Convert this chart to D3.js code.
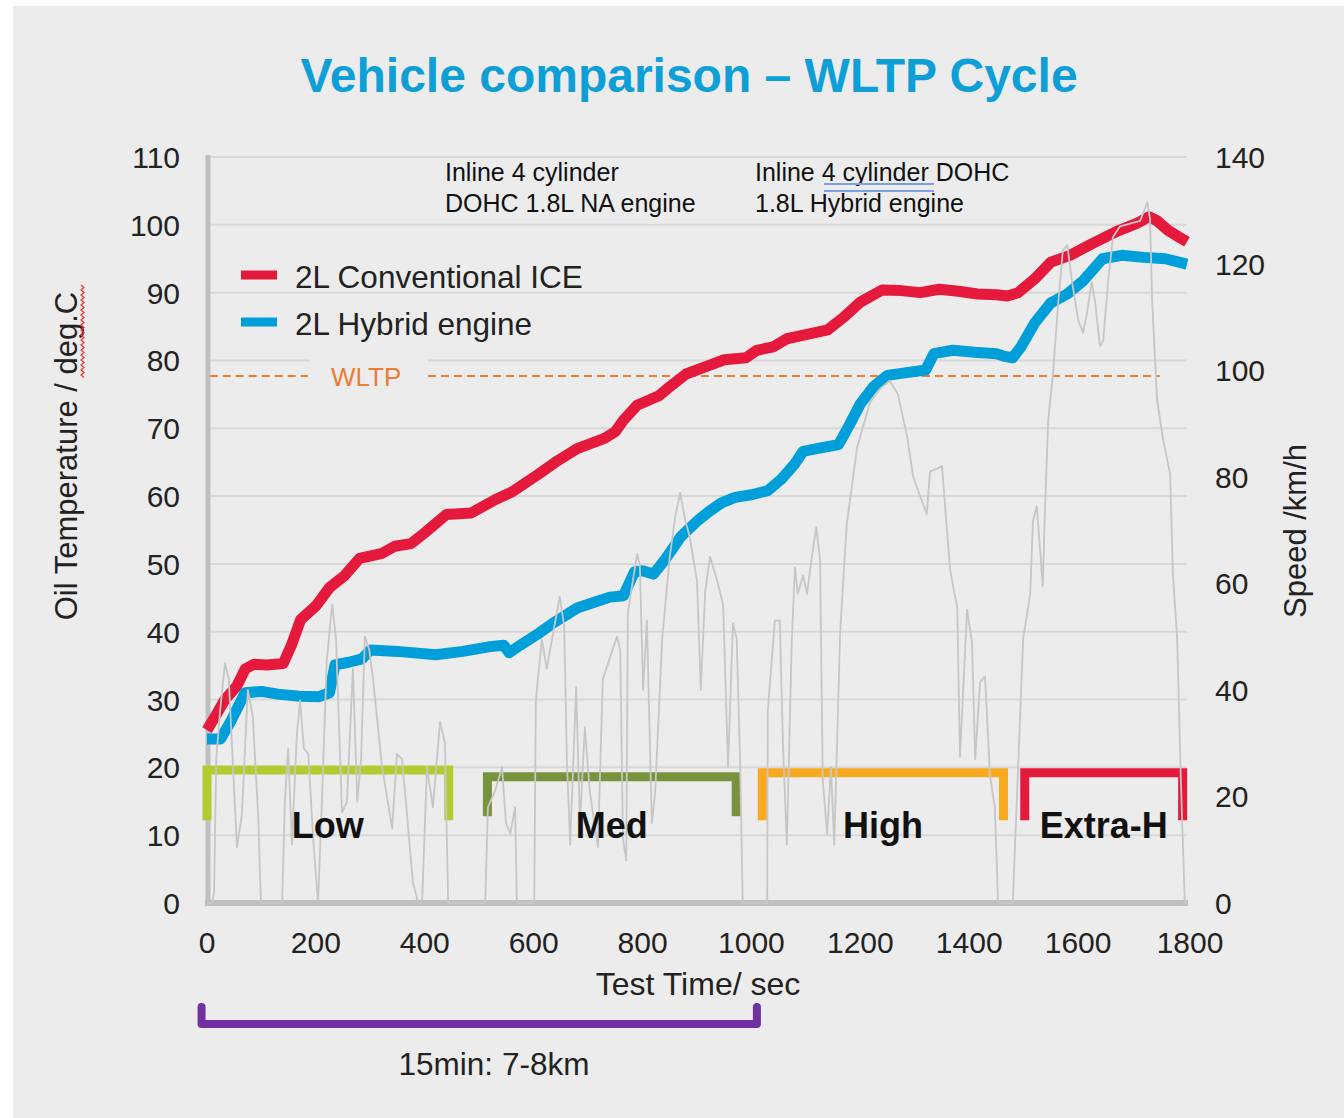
<!DOCTYPE html>
<html><head><meta charset="utf-8">
<script src="https://cdn.jsdelivr.net/npm/d3@7"></script>
<style>html,body{margin:0;padding:0;background:#fff;} svg{display:block;font-family:"Liberation Sans",Arial,Helvetica,sans-serif;}</style>
</head><body><svg id="c" width="1344" height="1118"></svg>
<script>
// ---------------- DATA ----------------
const chartTitle = "Vehicle comparison \u2013 WLTP Cycle";
const timeTicks = [0,200,400,600,800,1000,1200,1400,1600,1800];
const tempTicks = [0,10,20,30,40,50,60,70,80,90,100,110];
const speedTicks = [0,20,40,60,80,100,120,140];
const seriesNames = ["2L Conventional ICE","2L Hybrid engine"];
const engineNotes = [["Inline 4 cylinder","DOHC 1.8L NA engine"],["Inline 4 cylinder DOHC","1.8L Hybrid engine"]];
const wltpLevel = 77.7; // deg.C reference line
const wltpLabel = "WLTP";
const phaseNames = ["Low","Med","High","Extra-H"];
const phaseStart = [0,515,1020,1502];
const phaseEnd = [444,972,1463,1792];
const distanceSpan = [-10,1010];
const distanceLabel = "15min: 7-8km";

// Oil temperature, conventional ICE [time s, deg.C]
const iceTemp = [[0,25.5],[15,27.5],[33,30],[55,32],[70,34.5],[86,35.2],[110,35.1],[140,35.3],[155,38],[172,41.8],[200,43.8],[225,46.5],[253,48.3],[280,50.8],[320,51.5],[345,52.6],[375,53],[400,54.6],[440,57.3],[485,57.5],[530,59.5],[560,60.6],[610,63.3],[640,65],[680,67],[730,68.5],[750,69.5],[765,71.2],[790,73.4],[830,74.8],[845,75.8],[880,78],[920,79.2],[950,80.1],[990,80.4],[1010,81.5],[1040,82],[1065,83.2],[1100,83.8],[1140,84.5],[1170,86.4],[1200,88.6],[1240,90.4],[1275,90.3],[1310,90],[1345,90.5],[1380,90.2],[1415,89.8],[1450,89.7],[1470,89.5],[1490,90],[1520,92],[1550,94.5],[1585,95.5],[1625,97.2],[1670,99],[1710,100.3],[1730,101.2],[1745,100.6],[1765,99.2],[1785,98.2],[1800,97.5]];

// Oil temperature, hybrid engine [time s, deg.C]
const hybridTemp = [[0,24.2],[25,24.2],[45,27],[70,31],[100,31.2],[130,30.8],[170,30.5],[205,30.4],[225,31],[235,35.1],[260,35.5],[285,36],[300,37.3],[350,37.1],[420,36.6],[470,37.1],[520,37.8],[545,38],[555,36.9],[575,38],[610,39.8],[640,41.5],[680,43.5],[710,44.3],[740,45.1],[765,45.3],[785,48.8],[800,49],[820,48.5],[840,50.5],[870,54],[900,56.3],[920,57.6],[945,59],[970,59.8],[1000,60.2],[1030,60.8],[1055,62.5],[1080,64.8],[1095,66.6],[1120,67],[1160,67.6],[1180,70.5],[1200,73.6],[1225,76.2],[1250,77.8],[1285,78.2],[1320,78.6],[1335,81],[1370,81.5],[1410,81.2],[1450,81],[1465,80.6],[1480,80.4],[1495,82],[1520,85.5],[1550,88.5],[1580,89.8],[1610,91.8],[1645,95],[1680,95.5],[1720,95.2],[1760,95],[1800,94.2]];

// WLTP vehicle speed trace [time s, km/h]
const speedTrace = [[0,0],[9,0],[13,2],[17,27],[24,36],[33,45],[40,42],[48,25],[55,10.5],[64,16.5],[75,40],[84,35],[94,16.5],[99,0],[138,0],[143,19],[149,29],[156,11],[165,31.5],[171,38],[178,29],[186,28],[195,12],[204,0],[211,19],[220,45.5],[230,56],[237,49.5],[248,17],[257,19],[268,44],[276,19],[283,27],[290,50],[298,47.5],[305,42],[321,26],[340,14],[349,28],[358,27],[364,20.5],[378,4],[388,0],[395,0],[404,25.5],[415,18],[428,34],[437,30],[443,0],[511,0],[516,18],[529,21],[542,25.5],[549,15],[557,13],[566,18],[569,0],[601,0],[604,38],[615,49.5],[624,44],[639,52.5],[648,57.5],[656,52],[661,27],[667,11],[678,40.5],[685,15],[694,33],[703,21],[718,10.5],[727,42],[740,46],[753,50],[759,47.5],[764,12],[770,8],[773,54.5],[790,65.5],[795,63.5],[801,40],[808,53],[817,15],[823,20.5],[836,49.5],[850,65],[860,72.5],[869,77],[878,72],[887,68.5],[900,60.5],[907,40],[915,58.5],[924,65],[937,60.5],[948,56],[957,25.5],[966,52.5],[973,49.5],[979,27],[984,0],[1029,0],[1030,36],[1043,53],[1052,53],[1058,29.5],[1065,11],[1074,49],[1080,63],[1085,58],[1095,61.5],[1102,58],[1111,65],[1119,70.5],[1126,64.5],[1131,23],[1139,13],[1146,25.5],[1152,11],[1163,51],[1175,71],[1194,85.5],[1218,94],[1236,96.5],[1254,98],[1269,95.5],[1286,87.5],[1297,80],[1313,75.5],[1322,73],[1328,81],[1341,81.5],[1350,82],[1356,74],[1365,62.5],[1372,58.5],[1378,55.5],[1383,27.5],[1396,55],[1405,49],[1411,27],[1420,41.5],[1429,42.5],[1433,34.5],[1438,24],[1447,18],[1453,0],[1480,0],[1490,26],[1499,49.5],[1512,58],[1517,71.5],[1524,74.5],[1530,66.5],[1535,59.5],[1539,73.5],[1545,90.5],[1554,99.5],[1563,112],[1572,122.5],[1580,123.5],[1589,116.5],[1600,109.5],[1609,107],[1616,110.5],[1625,116.5],[1631,113],[1640,104.5],[1646,105.5],[1655,116.5],[1664,125],[1677,127],[1695,127.5],[1714,128],[1727,131.5],[1732,128.5],[1736,113],[1745,94.5],[1756,87],[1769,80.5],[1774,62],[1782,49.5],[1789,22],[1796,0],[1800,0]];

// ---------------- STYLE / LAYOUT ----------------
const W = 1344, H = 1118;
const plot = {left:207, right:1187, top:157, bottom:903};
const bg = "#ececec";
const seriesColors = ["#e4193b","#009fd9"];
const phaseColors = ["#b3ca31","#77933c","#f8aa1f","#e31a3c"];
const phaseTop = [19.6,18.6,19.2,19.2];
const phaseBottom = [12.2,12.8,12.2,12.2];
const textColor = "#222";

const svg = d3.select("#c");
const x = d3.scaleLinear().domain([0,1800]).range([plot.left, plot.right]);
const yT = d3.scaleLinear().domain([0,110]).range([plot.bottom, plot.top]);
const yS = d3.scaleLinear().domain([0,140]).range([plot.bottom, plot.top]);

// background
svg.append("rect").attr("width",W).attr("height",H).attr("fill","#fff");
svg.append("rect").attr("x",13).attr("y",6).attr("width",W-13).attr("height",H-6).attr("fill",bg);

// title
svg.append("text").attr("x",689).attr("y",92).attr("text-anchor","middle")
  .attr("font-size",48).attr("font-weight","bold").attr("fill","#0e9fd7").text(chartTitle);

// gridlines
svg.append("g").selectAll("line").data(tempTicks.filter(d=>d>0)).join("line")
  .attr("x1",plot.left).attr("x2",plot.right).attr("y1",d=>yT(d)).attr("y2",d=>yT(d))
  .attr("stroke","#d8d8d8").attr("stroke-width",2);

// WLTP label mask + dashed reference line
svg.append("rect").attr("x",310).attr("y",350).attr("width",118).attr("height",46).attr("fill",bg);
const dash = svg.append("g").attr("stroke","#ed7d31").attr("stroke-width",2).attr("stroke-dasharray","8,5");
dash.append("line").attr("x1",x(5)).attr("x2",308).attr("y1",yT(wltpLevel)).attr("y2",yT(wltpLevel));
dash.append("line").attr("x1",428).attr("x2",x(1750)).attr("y1",yT(wltpLevel)).attr("y2",yT(wltpLevel));
svg.append("text").attr("x",331).attr("y",yT(wltpLevel)+10).attr("font-size",26).attr("fill","#ed7d31").text(wltpLabel);

// axes lines
svg.append("line").attr("x1",plot.left+1).attr("x2",plot.left+1).attr("y1",plot.top-2).attr("y2",plot.bottom+3)
  .attr("stroke","#bfbfbf").attr("stroke-width",5);
svg.append("line").attr("x1",plot.left-2).attr("x2",plot.right+1).attr("y1",plot.bottom).attr("y2",plot.bottom)
  .attr("stroke","#bfbfbf").attr("stroke-width",6);

// temperature lines
const lineT = d3.line().x(d=>x(d[0])).y(d=>yT(d[1]));
[iceTemp, hybridTemp].forEach((s,i)=>{
  svg.append("path").datum(s).attr("d",lineT).attr("fill","none")
    .attr("stroke",seriesColors[i]).attr("stroke-width",11).attr("stroke-linejoin","round");
});

// phase brackets
phaseNames.forEach((name,i)=>{
  const p = d3.path();
  p.moveTo(x(phaseStart[i]), yT(phaseBottom[i]));
  p.lineTo(x(phaseStart[i]), yT(phaseTop[i]));
  p.lineTo(x(phaseEnd[i]), yT(phaseTop[i]));
  p.lineTo(x(phaseEnd[i]), yT(phaseBottom[i]));
  svg.append("path").attr("d",p.toString()).attr("fill","none").attr("stroke",phaseColors[i])
    .attr("stroke-width",9).attr("stroke-linejoin","miter");
});

// speed trace
const lineS = d3.line().x(d=>x(d[0])).y(d=>yS(d[1]));
svg.append("path").datum(speedTrace).attr("d",lineS).attr("fill","none")
  .attr("stroke","#c6c6c6").attr("stroke-width",1.8).attr("stroke-linejoin","round");

// phase labels
phaseNames.forEach((name,i)=>{
  svg.append("text").attr("x",x((phaseStart[i]+phaseEnd[i])/2)).attr("y",838)
    .attr("text-anchor","middle").attr("font-size",36).attr("font-weight","bold").attr("fill","#111").text(name);
});

// left ticks
svg.append("g").selectAll("text").data(tempTicks).join("text")
  .attr("x",180).attr("y",d=>yT(d)+11).attr("text-anchor","end").attr("font-size",30).attr("fill",textColor).text(d=>d);
// right ticks
svg.append("g").selectAll("text").data(speedTicks).join("text")
  .attr("x",1215).attr("y",d=>yS(d)+11).attr("text-anchor","start").attr("font-size",30).attr("fill",textColor).text(d=>d);
// bottom ticks
svg.append("g").selectAll("text").data(timeTicks).join("text")
  .attr("x",d=>x(d)+(d===1800?3:0)).attr("y",953).attr("text-anchor","middle").attr("font-size",30).attr("fill",textColor).text(d=>d);

// axis titles
svg.append("text").attr("x",698).attr("y",995).attr("text-anchor","middle").attr("font-size",32).attr("fill",textColor).text("Test Time/ sec");
svg.append("text").attr("transform","translate(77,456) rotate(-90)").attr("text-anchor","middle").attr("font-size",31).attr("fill",textColor).text("Oil Temperature / deg.C");
svg.append("text").attr("transform","translate(1306,531) rotate(-90)").attr("text-anchor","middle").attr("font-size",31).attr("fill",textColor).text("Speed /km/h");
// spell-check squiggle under deg.C
(function(){
  const p = d3.path(); let yy = 285; p.moveTo(81,yy); let k=0;
  while(yy<376){ yy+=2.5; p.lineTo(k%2?81:84, yy); k++; }
  svg.append("path").attr("d",p.toString()).attr("fill","none").attr("stroke","#e33").attr("stroke-width",1.2);
})();

// legend
seriesNames.forEach((n,i)=>{
  const yy = 275 + i*47;
  svg.append("line").attr("x1",241).attr("x2",277).attr("y1",yy).attr("y2",yy).attr("stroke",seriesColors[i]).attr("stroke-width",9);
  svg.append("text").attr("x",295).attr("y",yy+13).attr("font-size",31.5).attr("fill",textColor).text(n);
});

// engine notes
const noteX = [445,755];
engineNotes.forEach((lines,i)=>{
  lines.forEach((t,j)=>{
    svg.append("text").attr("x",noteX[i]).attr("y",181+j*31).attr("font-size",25).attr("fill","#111").text(t);
  });
});
// grammar-check double underline
[184,191].forEach(yy=>svg.append("line").attr("x1",824).attr("x2",934).attr("y1",yy).attr("y2",yy).attr("stroke","#7f9fe3").attr("stroke-width",2));

// distance bracket
(function(){
  const top = plot.bottom+104, bot = plot.bottom+121;
  const p = d3.path();
  p.moveTo(x(distanceSpan[0]), top); p.lineTo(x(distanceSpan[0]), bot);
  p.lineTo(x(distanceSpan[1]), bot); p.lineTo(x(distanceSpan[1]), top);
  svg.append("path").attr("d",p.toString()).attr("fill","none").attr("stroke","#7030a0").attr("stroke-width",8)
    .attr("stroke-linecap","round").attr("stroke-linejoin","round");
  svg.append("text").attr("x",494).attr("y",1075).attr("text-anchor","middle").attr("font-size",31.5).attr("fill",textColor).text(distanceLabel);
})();
</script></body></html>
